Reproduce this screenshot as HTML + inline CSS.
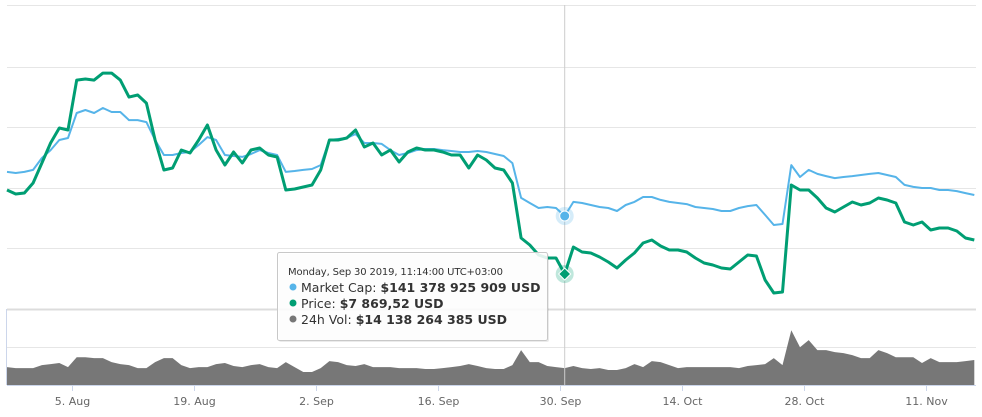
<!DOCTYPE html>
<html><head><meta charset="utf-8"><style>
html,body{margin:0;padding:0;background:#fff;}
svg{display:block;font-family:"DejaVu Sans","Liberation Sans",sans-serif;}
</style></head><body>
<svg id="chart" width="982" height="417" viewBox="0 0 982 417">
<g id="grid"></g>
<g id="series"></g>
<g id="axis"></g>
<g id="overlay"></g>
<g>
  <rect x="277.5" y="252.5" width="270" height="88" rx="2" fill="rgba(0,0,0,0.08)" transform="translate(1.5,1.5)"></rect>
  <rect x="277.5" y="252.5" width="270" height="88" rx="2" fill="rgba(255,255,255,0.88)" stroke="#c8c8c8" stroke-width="1"></rect>
  <text x="288" y="275" font-size="10" fill="#333" textLength="215">Monday, Sep 30 2019, 11:14:00 UTC+03:00</text>
  <circle cx="293" cy="287" r="3.5" fill="#56b4e9"></circle>
  <text x="301" y="292" font-size="12.5" fill="#333">Market Cap: <tspan font-weight="bold">$141 378 925 909 USD</tspan></text>
  <circle cx="293" cy="303" r="3.5" fill="#009e73"></circle>
  <text x="301" y="308" font-size="12.5" fill="#333">Price: <tspan font-weight="bold">$7 869,52 USD</tspan></text>
  <circle cx="293" cy="319" r="3.5" fill="#777"></circle>
  <text x="301" y="324" font-size="12.5" fill="#333">24h Vol: <tspan font-weight="bold">$14 138 264 385 USD</tspan></text>
</g>
</svg>
<script>
// daily samples starting Jul 28 2019 12:00
const price = [9491,9414,9433,9626,10012,10398,10688,10649,11614,11634,11614,11749,11749,11614,11286,11325,11170,10456,9877,9916,10263,10205,10456,10746,10263,9974,10225,10012,10263,10302,10167,10128,9491,9511,9549,9588,9877,10456,10456,10495,10649,10321,10398,10167,10263,10032,10225,10302,10263,10263,10225,10167,10167,9916,10167,10070,9916,9877,9626,8565,8430,8237,8179,8179,7870,8391,8295,8275,8198,8102,7986,8140,8275,8468,8526,8410,8333,8333,8295,8179,8082,8044,7986,7967,8102,8237,8217,7754,7503,7523,9588,9491,9491,9337,9144,9067,9163,9260,9202,9240,9337,9298,9240,8874,8816,8874,8719,8758,8758,8700,8565,8526];
const marketCap = [170.2,169.5,170.2,171.5,179.3,184.5,191.1,192.4,208.7,210.7,208.7,212.0,209.4,209.4,204.1,204.1,202.8,191.1,181.3,181.3,182.6,183.2,187.8,193.0,191.1,181.3,180.6,180.0,181.9,184.5,182.6,181.3,170.2,170.8,171.5,172.1,174.7,191.1,191.7,192.4,195.0,189.1,189.1,188.5,184.5,181.3,182.6,184.5,185.2,185.2,184.5,183.9,183.2,183.2,183.9,183.2,181.9,180.6,176.0,153.2,149.9,146.6,147.3,146.6,141.4,150.6,149.9,148.6,147.3,146.6,144.7,148.6,150.6,153.8,153.8,151.9,150.6,149.9,149.2,147.3,146.6,146.0,144.7,144.7,146.6,147.9,148.6,142.1,135.5,136.2,174.7,166.9,171.5,168.9,167.5,166.2,166.9,167.5,168.2,168.9,169.5,168.2,166.9,161.7,160.4,159.7,159.7,158.4,158.4,157.7,156.4,155.1];
const volume = [14.9,14.1,14.1,14.1,16.6,17.4,18.3,14.9,23.2,23.2,22.4,22.4,19.1,17.4,16.6,14.1,14.1,19.1,22.4,22.4,16.6,14.1,14.9,14.9,17.4,18.3,15.8,14.9,16.6,17.4,14.9,14.1,19.1,14.9,10.8,10.8,14.1,19.9,19.1,16.6,15.8,17.4,14.9,14.9,14.9,14.1,14.1,14.1,13.3,13.3,14.1,14.9,15.8,17.4,15.8,14.1,13.3,13.3,16.6,29.1,19.1,19.1,15.8,14.9,14.1,15.8,14.1,13.3,14.1,12.5,12.5,14.1,17.4,14.9,19.9,19.1,16.6,14.1,14.9,14.9,14.9,14.9,14.9,14.9,14.1,15.8,16.6,17.4,22.4,16.6,45.7,31.5,37.4,29.1,29.1,27.4,26.6,24.9,22.4,22.4,29.1,26.6,23.2,23.2,23.2,18.3,22.4,19.1,19.1,19.1,19.9,20.8];
const tickLabels = ["5. Aug","19. Aug","2. Sep","16. Sep","30. Sep","14. Oct","28. Oct","11. Nov"];
const tickDays = [7.5,21.5,35.5,49.5,63.5,77.5,91.5,105.5];
const hoverIndex = 64;

const NS = "http://www.w3.org/2000/svg";
const xScale = d => 7 + d * 8.714;
const yPrice = p => 274 - (p - 7870) * 0.0518;
const yCap = m => 216 - (m - 141.4) * 1.53;
const yVol = v => 385 - v * 1.2;
function mk(tag, attrs, parent){const e=document.createElementNS(NS,tag);for(const k in attrs)e.setAttribute(k,attrs[k]);parent.appendChild(e);return e;}

const grid=document.getElementById('grid');
[5,67,127,188,248].forEach(y=>{
  const l=mk('line',{x1:7,x2:976,y1:y+0.5,y2:y+0.5,stroke:'#e6e6e6','stroke-width':1},grid);
  
  
});
const div=mk('line',{x1:7,x2:976,y1:309.5,y2:309.5,stroke:'#dcdcdc','stroke-width':2},grid);


const vg=mk('line',{x1:7,x2:976,y1:347.5,y2:347.5,stroke:'#e6e6e6','stroke-width':1},grid);


const vl=mk('line',{x1:6.5,x2:6.5,y1:309,y2:385,stroke:'#ccd6eb','stroke-width':1},grid);



const series=document.getElementById('series');
let vd='M'+xScale(0)+',385';
volume.forEach((v,i)=>{vd+=' L'+xScale(i).toFixed(1)+','+yVol(v).toFixed(1);});
vd+=' L'+xScale(volume.length-1).toFixed(1)+',385 Z';
const va=mk('path',{d:vd,fill:'#777'},series);


let cd='';
marketCap.forEach((m,i)=>{cd+=(i?' L':'M')+xScale(i).toFixed(1)+','+yCap(m).toFixed(1);});
const cl=mk('path',{d:cd,fill:'none',stroke:'#56b4e9','stroke-width':2,'stroke-linejoin':'round'},series);


let pd='';
price.forEach((p,i)=>{pd+=(i?' L':'M')+xScale(i).toFixed(1)+','+yPrice(p).toFixed(1);});
const pl=mk('path',{d:pd,fill:'none',stroke:'#009e73','stroke-width':3,'stroke-linejoin':'round'},series);



const axis=document.getElementById('axis');
const al=mk('line',{x1:7,x2:976,y1:385.5,y2:385.5,stroke:'#ccd6eb','stroke-width':1},axis);


tickDays.forEach((d,i)=>{
  const x=Math.round(xScale(d))+0.5;
  const t=mk('line',{x1:x,x2:x,y1:385,y2:391,stroke:'#ccd6eb','stroke-width':1},axis);
  
  
  const lb=mk('text',{x:x,y:405,'text-anchor':'middle','font-size':11,fill:'#666'},axis);
  lb.textContent=tickLabels[i];
  
  
});

const ov=document.getElementById('overlay');
const hx=xScale(hoverIndex);
const ch=mk('line',{x1:hx,x2:hx,y1:5,y2:385,stroke:'#cccccc','stroke-width':1},ov);


const cy=yCap(marketCap[hoverIndex]);
mk('circle',{cx:hx,cy:cy,r:9,fill:'rgba(86,180,233,0.25)'},ov);
const cm=mk('circle',{cx:hx,cy:cy,r:5,fill:'#56b4e9',stroke:'#fff','stroke-width':1},ov);


const py=yPrice(price[hoverIndex]);
mk('circle',{cx:hx,cy:py,r:9,fill:'rgba(0,158,115,0.25)'},ov);
const pm=mk('path',{d:`M${hx},${py-6} L${hx+6},${py} L${hx},${py+6} L${hx-6},${py} Z`,fill:'#009e73',stroke:'#fff','stroke-width':1},ov);


</script>
</body></html>
